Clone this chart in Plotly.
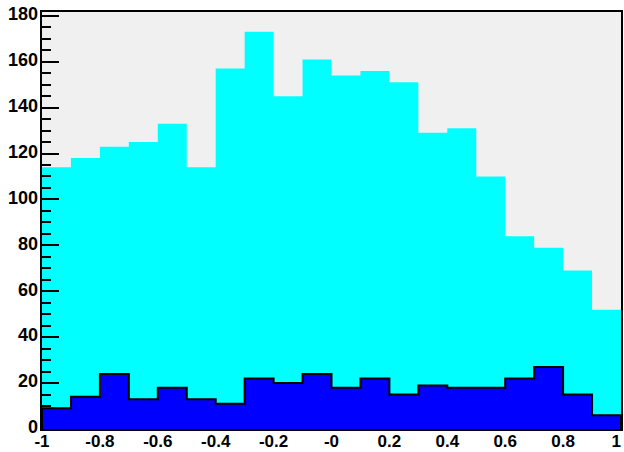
import plotly.graph_objects as go

# Histogram binning: 20 bins of width 0.1 on [-1, 1]
x_min = -1.0
bin_width = 0.1

# Bin contents
all_counts = [114, 118, 123, 125, 133, 114, 157, 173, 145, 161,
              154, 156, 151, 129, 131, 110, 84, 79, 69, 52]
selected_counts = [9, 14, 24, 13, 18, 13, 11, 22, 20, 24,
                   18, 22, 15, 19, 18, 18, 22, 27, 15, 6]

# Axis ticks (the last label is padded so it stays inside the page)
x_tick_vals = [-1, -0.8, -0.6, -0.4, -0.2, 0, 0.2, 0.4, 0.6, 0.8, 1]
x_tick_text = ["-1", "-0.8", "-0.6", "-0.4", "-0.2", "-0", "0.2", "0.4", "0.6", "0.8",
               "1\u00a0\u00a0"]
y_tick_vals = [0, 20, 40, 60, 80, 100, 120, 140, 160, 180]

n_bins = len(all_counts)
x_max = x_min + n_bins * bin_width
y_max = 1.05 * max(all_counts)


def step_outline(counts):
    """Closed step path of a histogram, starting and ending on the baseline."""
    xs, ys = [x_min], [0]
    for i, c in enumerate(counts):
        lo = x_min + i * bin_width
        hi = lo + bin_width
        xs += [lo, hi]
        ys += [c, c]
    xs.append(x_max)
    ys.append(0)
    return xs, ys


xa, ya = step_outline(all_counts)
xs_, ys_ = step_outline(selected_counts)

fig = go.Figure()

# Full distribution: cyan fill, no outline
fig.add_trace(go.Scatter(
    x=xa, y=ya, mode="lines", fill="tozeroy",
    fillcolor="#00ffff", line=dict(width=0, color="#00ffff"),
    hoverinfo="skip", showlegend=False, xaxis="x", yaxis="y",
))

# Selected subset: blue fill with black outline, drawn in a second
# subplot on the same domain so it sits above the y-axis tick marks
fig.add_trace(go.Scatter(
    x=xs_, y=ys_, mode="lines", fill="tozeroy",
    fillcolor="#0000ff", line=dict(width=2, color="black"),
    hoverinfo="skip", showlegend=False, xaxis="x2", yaxis="y2",
))

# Frame fill behind the first subplot
fig.add_shape(type="rect", xref="x domain", yref="y domain",
              x0=0, x1=1, y0=0, y1=1, layer="below",
              fillcolor="#f0f0f0", line=dict(width=0))

y_label_font = dict(family="Liberation Sans, Arial, sans-serif", size=18,
                    color="black", weight="bold")
x_label_font = dict(family="Liberation Sans, Arial, sans-serif", size=17,
                    color="black", weight="bold")

fig.update_layout(
    width=624, height=452,
    margin=dict(l=42, r=3, t=12, b=23, autoexpand=False),
    paper_bgcolor="white",
    plot_bgcolor="rgba(0,0,0,0)",
    xaxis=dict(
        domain=[0, 1], range=[x_min, x_max], automargin=False,
        tickvals=x_tick_vals, ticktext=x_tick_text,
        ticks="", showline=False, showgrid=False, zeroline=False,
        tickfont=x_label_font, ticklabelstandoff=0, ticklabeloverflow="allow",
        fixedrange=True,
    ),
    yaxis=dict(
        domain=[0, 1], range=[0, y_max], automargin=False,
        tickvals=y_tick_vals,
        ticks="inside", ticklen=17, tickwidth=1.5, tickcolor="black",
        minor=dict(dtick=5, ticks="inside", ticklen=9, tickwidth=1.5,
                   tickcolor="black", showgrid=False),
        showline=False, showgrid=False, zeroline=False,
        tickfont=y_label_font, ticklabelshift=-2, ticklabelstandoff=3,
        ticklabeloverflow="allow", fixedrange=True,
    ),
    xaxis2=dict(
        domain=[0, 1], range=[x_min, x_max], anchor="y2", automargin=False,
        showticklabels=False, ticks="", showgrid=False, zeroline=False,
        showline=True, mirror=True, linecolor="black", linewidth=2,
        fixedrange=True,
    ),
    yaxis2=dict(
        domain=[0, 1], range=[0, y_max], anchor="x2", automargin=False,
        showticklabels=False, ticks="", showgrid=False, zeroline=False,
        showline=True, mirror=True, linecolor="black", linewidth=2,
        fixedrange=True,
    ),
)

fig.write_html("out.html")
